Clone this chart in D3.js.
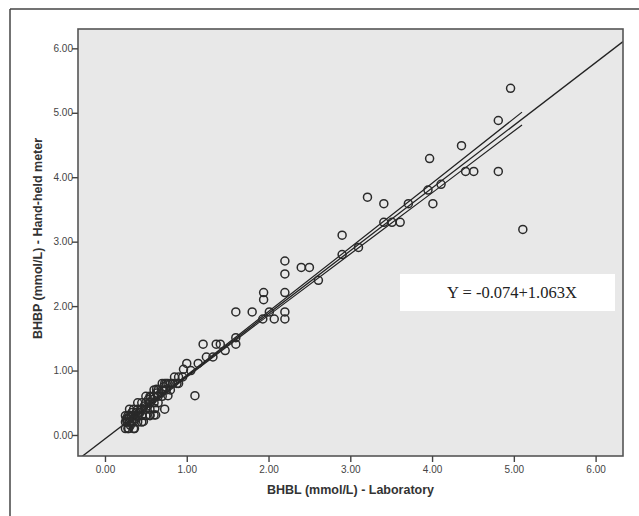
<!DOCTYPE html>
<html>
<head>
<meta charset="utf-8">
<script src="https://cdn.jsdelivr.net/npm/d3@7"></script>
<style>
html,body{margin:0;padding:0;background:#fff;}
svg{display:block;}
</style>
</head>
<body>
<svg id="chart" width="639" height="516"></svg>
<script>
// ---- data ----
const xTicks = [0, 1, 2, 3, 4, 5, 6];
const yTicks = [0, 1, 2, 3, 4, 5, 6];
const xTitle = "BHBL (mmol/L) - Laboratory";
const yTitle = "BHBP (mmol/L) - Hand-held meter";
const equationText = "Y = -0.074+1.063X";

// BHBL (lab) values
const bhbl = [
  4.96, 4.81, 4.36, 3.97, 4.41, 4.51, 4.81, 4.11, 3.95, 4.01,
  3.21, 3.41, 3.71, 3.41, 3.51, 3.61, 2.90, 5.11, 3.10,
  2.20, 2.20, 2.40, 2.50, 2.61, 1.94, 1.94, 2.20, 2.20, 2.20,
  2.07, 1.80, 2.01, 1.93, 1.60, 1.60, 1.20, 1.36, 1.41, 1.60,
  1.47, 1.24, 1.32, 1.00, 1.14, 0.96, 1.10, 0.73, 0.77, 2.90,
  0.73, 0.77, 0.63, 0.56, 0.62, 0.61, 0.60, 0.55, 0.47, 0.29, 0.36,
  0.25, 0.28, 0.35, 0.25, 0.27, 0.30, 0.33, 0.35, 0.40, 0.45,
  0.25, 0.28, 0.30, 0.32, 0.35, 0.38, 0.40, 0.45, 0.50, 0.55,
  0.30, 0.35, 0.40, 0.45, 0.50, 0.55, 0.40, 0.45, 0.50, 0.55,
  0.60, 0.65, 0.50, 0.55, 0.60, 0.65, 0.70, 0.60, 0.65, 0.70,
  0.75, 0.80, 0.70, 0.75, 0.80, 0.90, 0.85, 0.90, 0.27, 0.42, 0.52,
  0.83, 0.88, 0.95, 1.05,
  0.26, 0.29, 0.31, 0.34, 0.37, 0.43, 0.48, 0.53, 0.58, 0.63, 0.68, 0.72, 0.33, 0.38
];
// BHBP (hand-held) values
const bhbp = [
  5.38, 4.88, 4.49, 4.29, 4.09, 4.09, 4.09, 3.89, 3.80, 3.59,
  3.69, 3.59, 3.59, 3.30, 3.30, 3.30, 3.10, 3.19, 2.91,
  2.70, 2.50, 2.60, 2.60, 2.40, 2.21, 2.10, 2.21, 1.91, 1.80,
  1.80, 1.91, 1.91, 1.80, 1.91, 1.51, 1.41, 1.41, 1.41, 1.41,
  1.31, 1.21, 1.21, 1.11, 1.11, 1.02, 0.61, 0.40, 0.61, 2.80,
  0.80, 0.80, 0.71, 0.59, 0.31, 0.41, 0.31, 0.31, 0.21, 0.10, 0.10,
  0.10, 0.10, 0.10, 0.20, 0.20, 0.20, 0.20, 0.20, 0.20, 0.20,
  0.30, 0.30, 0.30, 0.30, 0.30, 0.30, 0.30, 0.30, 0.30, 0.30,
  0.40, 0.40, 0.40, 0.40, 0.40, 0.40, 0.50, 0.50, 0.50, 0.50,
  0.50, 0.50, 0.60, 0.60, 0.60, 0.60, 0.60, 0.70, 0.70, 0.70,
  0.70, 0.70, 0.80, 0.80, 0.80, 0.80, 0.90, 0.90, 0.25, 0.35, 0.45,
  0.80, 0.80, 0.90, 1.00,
  0.25, 0.25, 0.15, 0.25, 0.25, 0.35, 0.45, 0.55, 0.55, 0.65, 0.65, 0.75, 0.35, 0.35
];

// fit line as drawn (intercept, slope) and 95% CI of the mean at a few x
const fitIntercept = -0.06;
const fitSlope = 0.973;
const ciX     = [0.25, 1.00, 2.00, 3.00, 4.00, 5.10];
const ciUpper = [0.213, 0.928, 1.916, 2.909, 3.907, 5.01];
const ciLower = [0.153, 0.898, 1.856, 2.809, 3.757, 4.81];

// ---- layout ----
const svg = d3.select("#chart");
const L = 78, R = 623, T = 29, B = 456;

const x = d3.scaleLinear().domain([-0.33, 6.335]).range([L, R]);
const y = d3.scaleLinear().domain([-0.326, 6.30]).range([B, T]);

// outer frame (left and top edges)
svg.append("line").attr("x1", 10).attr("x2", 10).attr("y1", 9).attr("y2", 516)
  .attr("stroke", "#444").attr("stroke-width", 1.5);
svg.append("line").attr("x1", 10).attr("x2", 639).attr("y1", 9).attr("y2", 9)
  .attr("stroke", "#444").attr("stroke-width", 1.5);

// plot background
svg.append("rect").attr("x", L).attr("y", T).attr("width", R - L).attr("height", B - T)
  .attr("fill", "#e8e8e8");

svg.append("defs").append("clipPath").attr("id", "clip")
  .append("rect").attr("x", L).attr("y", T).attr("width", R - L).attr("height", B - T);

const plot = svg.append("g").attr("clip-path", "url(#clip)");

// fit line across the full axis range
const xd = x.domain();
plot.append("line")
  .attr("x1", x(xd[0])).attr("y1", y(fitIntercept + fitSlope * xd[0]))
  .attr("x2", x(xd[1])).attr("y2", y(fitIntercept + fitSlope * xd[1]))
  .attr("stroke", "#222").attr("stroke-width", 1.3);

// CI lines
const ciLine = d3.line().x(d => x(d[0])).y(d => y(d[1])).curve(d3.curveMonotoneX);
[ciUpper, ciLower].forEach(arr => {
  plot.append("path").datum(ciX.map((v, i) => [v, arr[i]]))
    .attr("d", ciLine).attr("fill", "none")
    .attr("stroke", "#222").attr("stroke-width", 1.2);
});

// points
plot.selectAll("circle.pt").data(bhbl.map((v, i) => [v, bhbp[i]]))
  .enter().append("circle").attr("class", "pt")
  .attr("cx", d => x(d[0])).attr("cy", d => y(d[1])).attr("r", 4)
  .attr("fill", "none").attr("stroke", "#2a2a2a").attr("stroke-width", 1.5);

// plot border
svg.append("rect").attr("x", L).attr("y", T).attr("width", R - L).attr("height", B - T)
  .attr("fill", "none").attr("stroke", "#555").attr("stroke-width", 1.6);

// axes
const xAxis = d3.axisBottom(x).tickValues(xTicks).tickFormat(d3.format(".2f"))
  .tickSize(6).tickSizeOuter(0);
const gx = svg.append("g").attr("transform", `translate(0,${B})`).call(xAxis);
const yAxis = d3.axisLeft(y).tickValues(yTicks).tickFormat(d3.format(".2f"))
  .tickSize(6).tickSizeOuter(0);
const gy = svg.append("g").attr("transform", `translate(${L},0)`).call(yAxis);
[gx, gy].forEach(g => {
  g.select(".domain").remove();
  g.selectAll(".tick line").attr("stroke", "#444").attr("stroke-width", 1.4);
  g.selectAll(".tick text").attr("fill", "#444")
    .style("font-family", "Liberation Sans, Arial, sans-serif").style("font-size", "10px");
});
gx.selectAll(".tick text").attr("dy", "0.9em").attr("y", 8);
gy.selectAll(".tick text").attr("x", -5);

// axis titles
svg.append("text").attr("x", (L + R) / 2).attr("y", 494)
  .attr("text-anchor", "middle").attr("fill", "#333")
  .style("font-family", "Liberation Sans, Arial, sans-serif")
  .style("font-size", "12.5px").style("font-weight", "bold").text(xTitle);
svg.append("text").attr("transform", `translate(42,${(T + B) / 2 - 4}) rotate(-90)`)
  .attr("text-anchor", "middle").attr("fill", "#333")
  .style("font-family", "Liberation Sans, Arial, sans-serif")
  .style("font-size", "12.5px").style("font-weight", "bold").text(yTitle);

// equation box
svg.append("rect").attr("x", 400).attr("y", 274).attr("width", 215).attr("height", 37)
  .attr("fill", "#fff");
svg.append("text").attr("x", 512).attr("y", 298).attr("text-anchor", "middle")
  .attr("fill", "#222")
  .style("font-family", "Liberation Serif, Times New Roman, serif")
  .style("font-size", "16.5px").text(equationText);
</script>
</body>
</html>
